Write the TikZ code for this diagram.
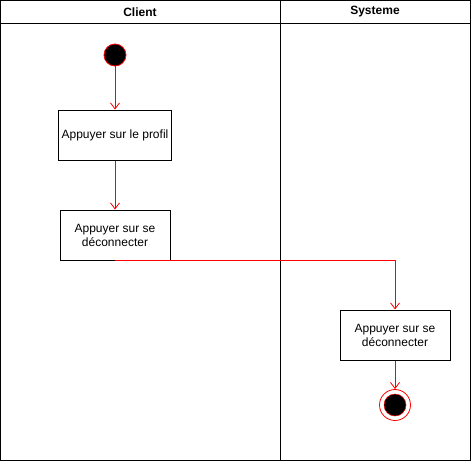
\documentclass[tikz,border=0pt]{standalone}
\usepackage{fontspec}
\setmainfont{Liberation Sans}
\usetikzlibrary{arrows.meta,positioning}
\tikzset{
  action/.style={draw,line width=1pt,minimum width=110pt,minimum height=50pt,align=center,font=\fontsize{12pt}{14pt}\selectfont},
  flow/.style={->,red,line width=0.8pt},
  lane/.style={font=\bfseries\fontsize{12pt}{14pt}\selectfont}
}
\begin{document}
\begin{tikzpicture}[x=1pt,y=-1pt,>={Straight Barb[length=6pt,width=9pt]}]
        \useasboundingbox (0,0) rectangle (471,461);

        % draw the swimlanes
        \draw[line width=1pt] (0.5,0.5) rectangle (470,460);
        \draw[line width=1pt] (0.5,23) -- (470,23);
        \draw[line width=1pt] (280,0.5) -- (280,460);
        \node[lane] (client) at (140,12) {Client};
        \node[lane] (systeme) at (375,12) {Systeme};

        % start and end
        \node[circle,fill=black,draw=red,line width=0.8pt,minimum size=22pt,inner sep=0pt] (start) at (115,55) {};
        \node[circle,draw=red,line width=0.8pt,minimum size=31pt,inner sep=0pt] (stop) at (395,405) {};
        \fill[black,draw=red,line width=0.5pt] (stop.center) circle (11);

        % the actions
        \node[action] (profil) at (115,135) {Appuyer sur le profil};
        \node[action] (deco) at (115,235) {Appuyer sur se\\d\'econnecter};
        \node[action] (decosys) at (395,335) {Appuyer sur se\\d\'econnecter};

        % the arrows between them
        \draw[flow] (start) -- (profil);
        \draw[flow] (profil) -- (deco);
        \draw[flow] (deco.south) -| (decosys.north);
        \draw[flow] (decosys) -- (stop);
\end{tikzpicture}
\end{document}
